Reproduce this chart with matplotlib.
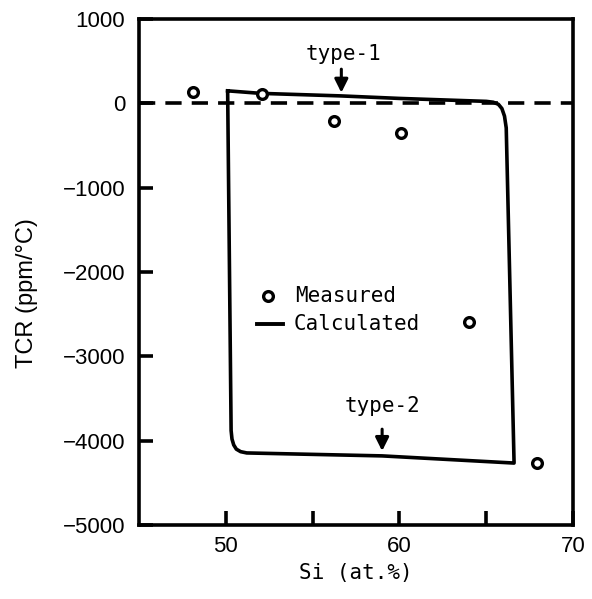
import numpy as np
import matplotlib.pyplot as plt

# Measured TCR values
si_meas = [48.1, 52.1, 56.2, 60.1, 64.0, 67.9]
tcr_meas = [140, 110, -210, -350, -2590, -4260]

# Calculated loop (type-1 top branch, type-2 bottom branch)
si_calc = [50.1, 52.0, 56.6, 60.0, 65.0, 65.4, 65.7, 65.9, 66.05, 66.15,
           66.6, 66.6, 59.0, 51.2, 50.85, 50.6, 50.45, 50.35, 50.3, 50.1]
tcr_calc = [150, 120, 90, 60, 25, 15, -10, -60, -150, -290,
            -4250, -4265, -4180, -4145, -4130, -4100, -4050, -3980, -3880, 150]

plt.rcParams['font.family'] = ['Liberation Sans', 'DejaVu Sans']
mono = 'DejaVu Sans Mono'

fig = plt.figure(figsize=(5.92, 5.99), dpi=100)
ax = fig.add_axes([0.235, 0.1235, 0.733, 0.8445])

ax.axhline(0, color='black', lw=2.6, ls=(0, (4.5, 2.8)))
ax.plot(si_calc, tcr_calc, color='black', lw=2.6, solid_joinstyle='round')
ax.plot(si_meas, tcr_meas, 'o', mfc='white', mec='black', ms=7, mew=2.4)

# legend drawn by hand
ax.plot([52.4], [-2280], 'o', mfc='white', mec='black', ms=7, mew=2.4)
ax.text(54.0, -2280, 'Measured', fontfamily=mono, fontsize=15, va='center')
ax.plot([51.8, 53.3], [-2610, -2610], color='black', lw=2.8)
ax.text(53.9, -2610, 'Calculated', fontfamily=mono, fontsize=15, va='center')

# type labels and arrows
ax.annotate('', xy=(56.65, 95), xytext=(56.65, 440),
            arrowprops=dict(arrowstyle='-|>', color='black', lw=2.2, mutation_scale=20))
ax.text(56.75, 510, 'type-1', fontfamily=mono, fontsize=15, ha='center', va='baseline')
ax.annotate('', xy=(59.0, -4155), xytext=(59.0, -3830),
            arrowprops=dict(arrowstyle='-|>', color='black', lw=2.2, mutation_scale=20))
ax.text(59.05, -3665, 'type-2', fontfamily=mono, fontsize=15, ha='center', va='baseline')

ax.set_xlim(45, 70)
ax.set_ylim(-5000, 1000)
ax.set_xticks([50, 55, 60, 65, 70])
ax.set_xticklabels(['50', '', '60', '', '70'])
ax.set_yticks(np.arange(-5000, 1001, 1000))
ax.tick_params(direction='in', length=10, width=2.6, labelsize=16, pad=10)
ax.tick_params(axis='x', pad=8)
for s in ax.spines.values():
    s.set_linewidth(2.6)

ax.set_xlabel('Si (at.%)', fontfamily=mono, fontsize=15, labelpad=4)
ax.set_ylabel('TCR (ppm/°C)', fontsize=17)
ax.yaxis.set_label_coords(-0.233, 0.458)

fig.savefig('out.png', dpi=100)
